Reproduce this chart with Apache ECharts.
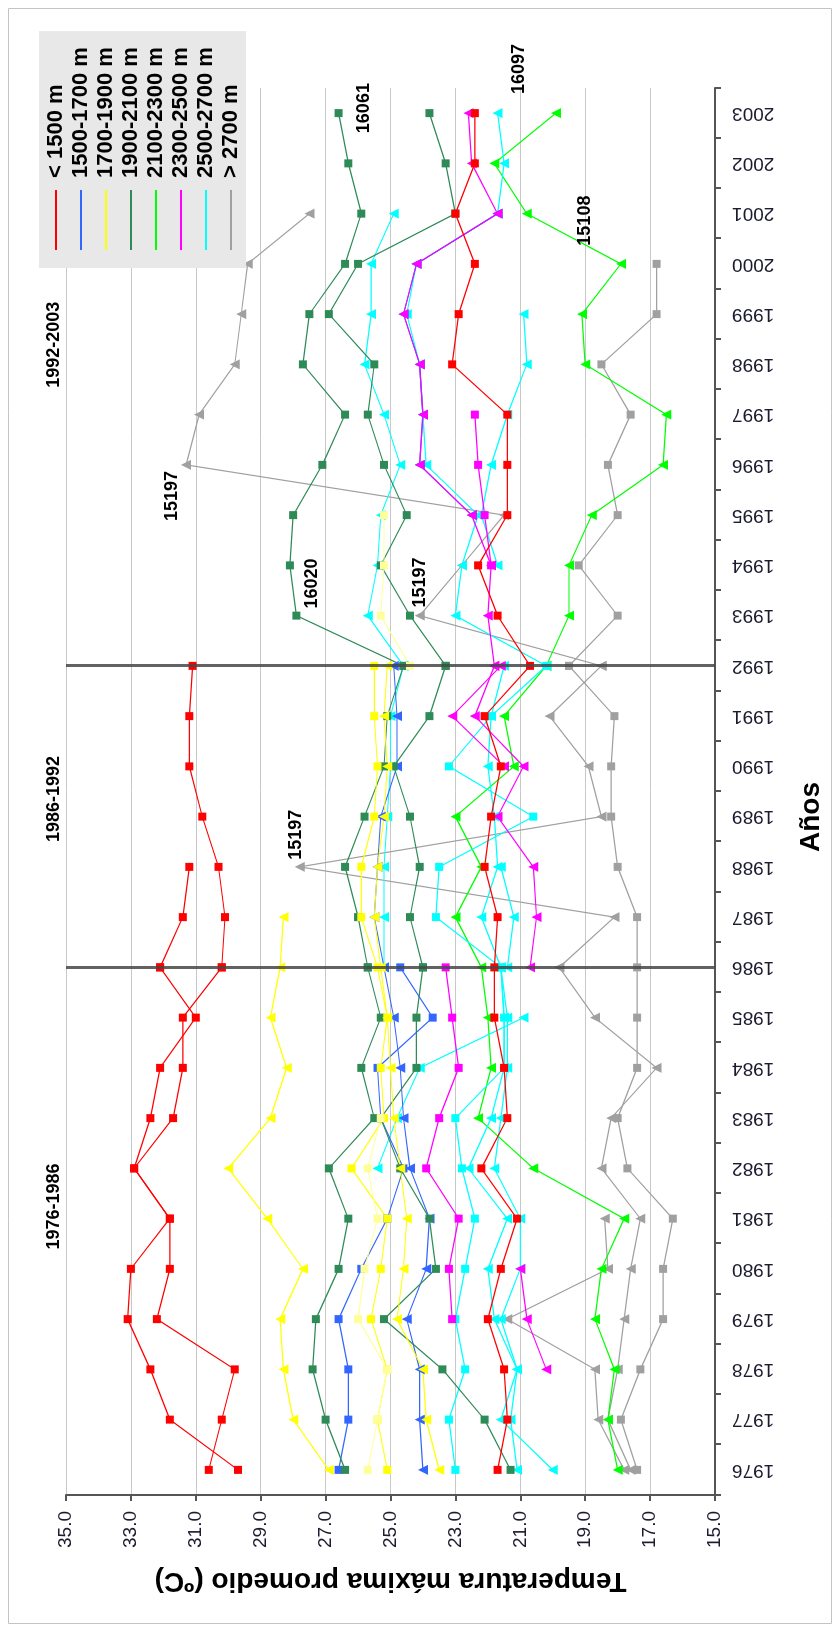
<!DOCTYPE html>
<html>
<head>
<meta charset="utf-8">
<script src="https://cdn.jsdelivr.net/npm/echarts@6/dist/echarts.min.js"></script>
<style>
  html, body { margin: 0; padding: 0; background: #ffffff; overflow: hidden; }
  /* the chart is laid out landscape and turned a quarter turn to stand upright */
  #stage {
    position: absolute; left: 0; top: 0;
    width: 1631px; height: 838px;
    transform-origin: 0 0;
    transform: translate(0, 1631px) rotate(-90deg);
  }
</style>
</head>
<body>
<div id="stage"></div>
<script>
// ---- categories -------------------------------------------------------
const YEARS = ['1976','1977','1978','1979','1980','1981','1982','1983','1984','1985',
               '1986','1987','1988','1989','1990','1991','1992','1993','1994','1995',
               '1996','1997','1998','1999','2000','2001','2002','2003'];

const CLASSES = ['< 1500 m', '1500-1700 m', '1700-1900 m', '1900-2100 m',
                 '2100-2300 m', '2300-2500 m', '2500-2700 m', '> 2700 m'];

// ---- station series (mean maximum temperature, °C), each from its first year ----
const RED_A  = [29.7, 31.8, 32.4, 33.1, 33.0, 31.8, 32.9, 32.4, 32.1, 31.0, 32.1];
const RED_B  = [30.6, 30.2, 29.8, 32.2, 31.8, 31.8, 32.9, 31.7, 31.4, 31.4, 30.2];
const RED_C  = [32.1, 31.4, 31.2];
const RED_D  = [30.2, 30.1, 30.3, 30.8, 31.2, 31.2, 31.1];
const RED_E  = [21.7, 21.4, 21.5, 22.0, 21.6, 21.1, 22.2, 21.4, 21.5, 21.8, 21.8, 21.7, 22.1, 21.9,
                21.6, 22.1, 20.7, 21.7, 22.3, 21.4, 21.4, 21.4, 23.1, 22.9, 22.4, 23.0, 22.4, 22.4];

const BLUE_A = [26.6, 26.3, 26.3, 26.6, 25.9, 25.1, 24.6, 25.3, 25.4, 23.7, 24.7];
const BLUE_B = [24.0, 24.1, 24.1, 24.5, 23.9, 23.8, 24.4, 24.6, 24.7, 24.9, 25.2, 25.5, 25.4, 25.3, 24.8, 24.8, 24.9];
const BLUE_C = [22.5, 24.1, 24.0, 24.1, 24.6, 24.2, 21.7];

const YEL_A  = [26.9, 28.0, 28.3, 28.4, 27.7, 28.8, 30.0, 28.7, 28.2, 28.7, 28.4, 28.3];
const YEL_B  = [25.1, 25.4, 25.1, 25.6, 25.3, 25.1, 26.2, 25.2, 25.3, 25.1, 25.4, 25.9, 25.9, 25.5, 25.4, 25.5, 25.5];
const YEL_C  = [25.7, 25.4, 25.1, 26.0, 25.8, 25.4, 25.7, 25.3];
const YEL_D  = [23.5, 23.9, 24.0, 24.8, 24.6, 24.5, 24.7, 24.9, 25.0, 25.1, 25.3, 25.5, 25.4, 25.2, 25.1, 25.2, 25.1];
const YEL_E  = [24.4, 25.3, 25.2, 25.2];

const SG_A   = [26.4, 27.0, 27.4, 27.3, 26.6, 26.3, 26.9, 25.5, 25.9, 25.3, 25.7];
const SG_B   = [21.3, 22.1, 23.4, 25.2, 23.6, 23.8, 24.7, 25.3, 24.2, 24.2, 24.0];
const SG_C   = [25.7, 26.0, 26.4, 25.8, 25.2, 25.1, 24.6];
const SG_D   = [24.0, 24.4, 24.1, 24.4, 24.9, 23.8, 23.3];
const SG_E   = [24.6, 27.9, 28.1, 28.0, 27.1, 26.4, 27.7, 27.5, 26.4, 25.9, 26.3, 26.6];
const SG_F   = [23.3, 24.4, 25.3, 24.5, 25.2, 25.7, 25.5, 26.9, 26.0, 23.0, 23.3, 23.8];

const LIME_A = [18.0, 18.3, 18.1, 18.7, 18.5, 17.8, 20.6, 22.3, 21.9, 22.0, 22.2, 23.0, 22.2, 23.0, 21.2, 21.5, 20.2];
const LIME_B = [20.2, 19.5, 19.5, 18.8, 16.6, 16.5, 19.0, 19.1, 17.9, 20.8, 21.8, 19.9];

const MAG_A  = [23.1, 23.2, 22.9, 23.9, 23.5, 22.9, 23.1, 23.3];
const MAG_B  = [20.2, 20.8, 21.0];
const MAG_C  = [20.7, 20.5, 20.6, 21.7, 20.9, 22.4, 21.8];
const MAG_D  = [21.5, 23.1, 21.6];
const MAG_E  = [21.8, 22.0, 21.9, 22.5, 24.1, 24.0, 24.1, 24.6, 24.2, 21.7, 22.5, 22.6];
const MAG_F  = [21.9, 22.1, 22.3, 22.4];

const CYAN_A = [23.0, 23.2, 22.7, 23.0, 22.7, 22.4, 22.8, 23.0, 21.5, 21.5, 21.6];
const CYAN_B = [20.0, 21.6, 21.1, 21.8, 22.0, 21.4, 22.6, 21.9, 21.5, 21.5, 21.6];
const CYAN_C = [21.1, 21.3, 21.1, 21.6, 21.0, 21.0, 21.8, 21.6, 21.4, 21.4, 21.6];
const CYAN_D = [25.4, 24.8, 24.1, 20.9];
const CYAN_E = [21.6, 23.6, 23.5, 20.6, 23.2, 21.9, 20.2];
const CYAN_F = [25.2, 25.2, 25.2, 25.1, 25.0, 25.0, 24.6];
const CYAN_G = [21.6, 22.2, 21.7, 21.8, 22.0, 21.9, 21.5];
const CYAN_H = [21.4, 21.2, 21.6];
const CYAN_I = [24.6, 25.7, 25.4, 25.3, 24.7, 25.2, 25.8, 25.6, 25.6, 24.9];
const CYAN_J = [20.2, 23.0, 22.8, 22.3, 23.9, 24.0, 24.1, 24.5, 24.2, 21.7, 21.5, 21.7];
const CYAN_K = [21.7, 22.2, 21.9, 21.4, 20.8, 20.9];

const GRAY_A = [17.4, 17.9, 17.3, 16.6, 16.6, 16.3, 17.7, 18.0, 17.4, 17.4, 17.4, 17.4, 18.0, 18.2, 18.2, 18.1, 19.5];
const GRAY_B = [17.6, 18.3, 18.0, 17.8, 17.6, 17.3, 18.5, 18.2, 16.8, 18.7, 19.8];
const GRAY_C = [17.8, 18.6, 18.7, 21.4, 18.3, 18.4];
const GRAY_D = [19.8, 18.1, 27.8, 18.5, 18.9, 20.1, 18.5];
const GRAY_E = [19.5, 18.0, 19.2, 18.0, 18.3, 17.6, 18.5, 16.8, 16.8];
const GRAY_F = [18.5, 24.1, 22.8, 21.5, 31.3, 30.9, 29.8, 29.6, 29.4, 27.5];

// id, altitude class, marker, first year, values, tone
const LINES = [
  ['GRAY_A', '> 2700 m', 'rect', 1976, GRAY_A], ['GRAY_B', '> 2700 m', 'triangle', 1976, GRAY_B],
  ['GRAY_C', '> 2700 m', 'triangle', 1976, GRAY_C], ['GRAY_D', '> 2700 m', 'triangle', 1986, GRAY_D],
  ['GRAY_E', '> 2700 m', 'rect', 1992, GRAY_E], ['GRAY_F', '> 2700 m', 'triangle', 1992, GRAY_F],
  ['LIME_A', '2100-2300 m', 'triangle', 1976, LIME_A], ['LIME_B', '2100-2300 m', 'triangle', 1992, LIME_B],
  ['CYAN_A', '2500-2700 m', 'rect', 1976, CYAN_A], ['CYAN_B', '2500-2700 m', 'triangle', 1976, CYAN_B],
  ['CYAN_C', '2500-2700 m', 'triangle', 1976, CYAN_C], ['CYAN_D', '2500-2700 m', 'triangle', 1982, CYAN_D],
  ['CYAN_E', '2500-2700 m', 'rect', 1986, CYAN_E], ['CYAN_F', '2500-2700 m', 'triangle', 1986, CYAN_F],
  ['CYAN_G', '2500-2700 m', 'triangle', 1986, CYAN_G], ['CYAN_H', '2500-2700 m', 'triangle', 1986, CYAN_H],
  ['CYAN_I', '2500-2700 m', 'triangle', 1992, CYAN_I], ['CYAN_J', '2500-2700 m', 'triangle', 1992, CYAN_J],
  ['CYAN_K', '2500-2700 m', 'triangle', 1994, CYAN_K],
  ['BLUE_A', '1500-1700 m', 'rect', 1976, BLUE_A], ['BLUE_B', '1500-1700 m', 'triangle', 1976, BLUE_B],
  ['BLUE_C', '1500-1700 m', 'triangle', 1995, BLUE_C],
  ['MAG_A', '2300-2500 m', 'rect', 1979, MAG_A], ['MAG_B', '2300-2500 m', 'triangle', 1978, MAG_B],
  ['MAG_C', '2300-2500 m', 'triangle', 1986, MAG_C], ['MAG_D', '2300-2500 m', 'triangle', 1990, MAG_D],
  ['MAG_E', '2300-2500 m', 'triangle', 1992, MAG_E], ['MAG_F', '2300-2500 m', 'rect', 1994, MAG_F],
  ['SG_A', '1900-2100 m', 'rect', 1976, SG_A], ['SG_B', '1900-2100 m', 'rect', 1976, SG_B],
  ['SG_C', '1900-2100 m', 'rect', 1986, SG_C], ['SG_D', '1900-2100 m', 'rect', 1986, SG_D],
  ['SG_E', '1900-2100 m', 'rect', 1992, SG_E], ['SG_F', '1900-2100 m', 'rect', 1992, SG_F],
  ['YEL_A', '1700-1900 m', 'triangle', 1976, YEL_A], ['YEL_B', '1700-1900 m', 'rect', 1976, YEL_B],
  ['YEL_C', '1700-1900 m', 'rect', 1976, YEL_C, 'pale'], ['YEL_D', '1700-1900 m', 'triangle', 1976, YEL_D],
  ['YEL_E', '1700-1900 m', 'rect', 1992, YEL_E, 'pale'],
  ['RED_A', '< 1500 m', 'rect', 1976, RED_A], ['RED_B', '< 1500 m', 'rect', 1976, RED_B],
  ['RED_C', '< 1500 m', 'rect', 1986, RED_C], ['RED_D', '< 1500 m', 'rect', 1986, RED_D],
  ['RED_E', '< 1500 m', 'rect', 1976, RED_E]
];

// station numbers written beside single points
const NOTES = [
  ['GRAY_D', '1988', '15197'], ['GRAY_F', '1993', '15197'], ['GRAY_F', '1996', '15197'],
  ['SG_E', '1993', '16020'], ['SG_E', '2003', '16061'], ['CYAN_J', '2003', '16097'],
  ['LIME_B', '2001', '15108']
];

// period boundaries and their headings
const BREAKS = ['1986', '1992'];
const PERIODS = [['1976-1986', 1981.24], ['1986-1992', 1989.35], ['1992-2003', 1998.39]];

// ---- styling ------------------------------------------------------------
const FONT = '"Liberation Sans", Arial, sans-serif';
const COLORS = {
  '< 1500 m': '#ff0000', '1500-1700 m': '#3366ff', '1700-1900 m': '#ffff00',
  '1900-2100 m': '#2e8b57', '2100-2300 m': '#00ff00', '2300-2500 m': '#ff00ff',
  '2500-2700 m': '#00ffff', '> 2700 m': '#a0a0a0'
};
const PALE = { '1700-1900 m': '#ffff99' };
const NOTE_PLACE = {
  'GRAY_D|1988': { position: 'right', distance: 2, offset: [0, -4] },
  'GRAY_F|1993': { position: 'right', distance: 3, offset: [0, 0] },
  'GRAY_F|1996': { position: 'left', distance: 1, offset: [0, -14] },
  'SG_E|1993':   { position: 'right', distance: 3, offset: [0, 16] },
  'SG_E|2003':   { position: 'bottom', distance: 12, offset: [5, 0] },
  'CYAN_J|2003': { position: 'right', distance: 4, offset: [10, 21] },
  'LIME_B|2001': { position: 'bottom', distance: 44, offset: [-7, 0] }
};

const series = LINES.map(([id, cls, mark, from, vals, tone]) => {
  const color = tone === 'pale' ? PALE[cls] : COLORS[cls];
  const data = YEARS.map(y => {
    const k = Number(y) - from;
    const v = (k >= 0 && k < vals.length) ? vals[k] : null;
    const note = NOTES.find(n => n[0] === id && n[1] === y);
    if (v === null || !note) return v;
    return {
      value: v,
      label: Object.assign({
        show: true, formatter: note[2], color: '#000',
        fontFamily: FONT, fontSize: 18, fontWeight: 'bold'
      }, NOTE_PLACE[id + '|' + y])
    };
  });
  return {
    type: 'line', name: cls, id: id, data: data,
    symbol: mark, symbolSize: mark === 'triangle' ? 10 : 8,
    showSymbol: true, showAllSymbol: true, connectNulls: false,
    lineStyle: { color: color, width: 1.2 },
    itemStyle: { color: color },
    emphasis: { disabled: true },
    z: 3
  };
});

// period separators
series.push({
  type: 'line', name: 'periodos', data: [], silent: true, z: 4,
  markLine: {
    silent: true, symbol: ['none', 'none'], animation: false,
    label: { show: false },
    lineStyle: { color: 'rgba(70,70,70,0.85)', width: 3, type: 'solid' },
    data: BREAKS.map(b => ({ xAxis: b }))
  }
});

const chart = echarts.init(document.getElementById('stage'), null, { width: 1631, height: 838 });

chart.setOption({
  animation: false,
  backgroundColor: '#ffffff',
  grid: { left: 136, right: 88, top: 66, bottom: 123, containLabel: false },
  legend: {
    data: CLASSES, orient: 'vertical', left: 1363, top: 39,
    backgroundColor: '#e8e8e8', padding: [6, 16, 4, 18],
    itemWidth: 60, itemHeight: 2, itemGap: 3, icon: 'rect',
    selectedMode: false,
    textStyle: { fontFamily: FONT, fontSize: 22, fontWeight: 'bold', color: '#000',
                 lineHeight: 22, padding: [0, 0, 0, 7] }
  },
  xAxis: {
    type: 'category', data: YEARS, boundaryGap: true,
    name: 'Años', nameLocation: 'middle', nameGap: 82,
    nameTextStyle: { fontFamily: FONT, fontSize: 28, fontWeight: 'bold', color: '#000',
                     padding: [0, 51, 0, 0] },
    axisLine: { lineStyle: { color: '#555555', width: 2 } },
    axisTick: { show: true, inside: false, length: 6, interval: 0, alignWithLabel: false,
                lineStyle: { color: '#555555', width: 2 } },
    axisLabel: { rotate: 90, interval: 0, margin: 17, fontFamily: FONT, fontSize: 19, color: '#1c1c30' },
    splitLine: { show: false }
  },
  yAxis: {
    type: 'value', min: 15, max: 35, interval: 2,
    name: 'Temperatura máxima promedio (ºC)', nameLocation: 'middle', nameRotate: 90, nameGap: 72,
    nameTextStyle: { fontFamily: FONT, fontSize: 28, fontWeight: 'bold', color: '#000' },
    axisLine: { show: true, lineStyle: { color: '#555555', width: 2 } },
    axisTick: { show: true, inside: false, length: 6, lineStyle: { color: '#555555', width: 2 } },
    axisLabel: { margin: 16, fontFamily: FONT, fontSize: 19, color: '#1c1c30',
                 formatter: v => v.toFixed(1) },
    splitLine: { show: true, lineStyle: { color: '#c8c8c8', width: 1 } }
  },
  series: series
});

// headings above each period, placed through the category axis
const colPixel = yr => {
  const i = Math.floor(yr - 1976), f = (yr - 1976) - i;
  const a = chart.convertToPixel({ xAxisIndex: 0 }, YEARS[i]);
  const b = chart.convertToPixel({ xAxisIndex: 0 }, YEARS[Math.min(i + 1, YEARS.length - 1)]);
  return a + (b - a) * f;
};
const topEdge = chart.convertToPixel({ yAxisIndex: 0 }, 35);

chart.setOption({
  graphic: [
    { type: 'rect', silent: true, shape: { x: 7.5, y: 8.5, width: 1615, height: 823 },
      style: { fill: null, stroke: '#c4c4c4', lineWidth: 1 } }
  ].concat(PERIODS.map(([txt, yr]) => ({
    type: 'text', silent: true, x: colPixel(yr), y: topEdge - 12,
    style: { text: txt, fill: '#000', font: 'bold 18px ' + FONT,
             textAlign: 'center', textVerticalAlign: 'middle' }
  })))
});
</script>
</body>
</html>
